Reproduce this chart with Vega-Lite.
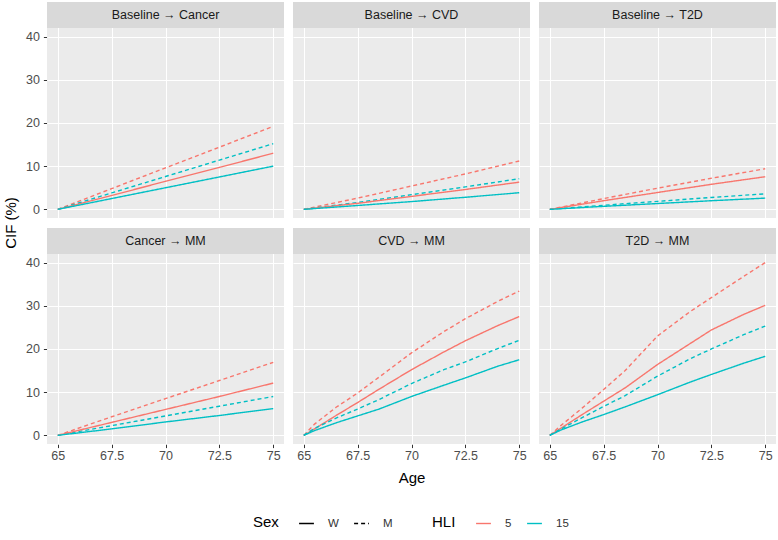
{
  "$schema": "https://vega.github.io/schema/vega-lite/v6.json",
  "padding": {"left": 3, "top": 2, "right": 2, "bottom": 2},
  "datasets": {
    "panels": [
      {"panel": "Baseline → Cancer", "step": "onset", "disease": "Cancer"},
      {"panel": "Baseline → CVD", "step": "onset", "disease": "CVD"},
      {"panel": "Baseline → T2D", "step": "onset", "disease": "T2D"},
      {"panel": "Cancer → MM", "step": "multimorbidity", "disease": "Cancer"},
      {"panel": "CVD → MM", "step": "multimorbidity", "disease": "CVD"},
      {"panel": "T2D → MM", "step": "multimorbidity", "disease": "T2D"}
    ]
  },
  "data": {"values": [
    {"panel": "Baseline → Cancer", "sex": "M", "hli": "5", "age": 65, "cif": 0},
    {"panel": "Baseline → Cancer", "sex": "M", "hli": "5", "age": 67.5, "cif": 4.8},
    {"panel": "Baseline → Cancer", "sex": "M", "hli": "5", "age": 70, "cif": 9.6},
    {"panel": "Baseline → Cancer", "sex": "M", "hli": "5", "age": 72.5, "cif": 14.4},
    {"panel": "Baseline → Cancer", "sex": "M", "hli": "5", "age": 75, "cif": 19.2},
    {"panel": "Baseline → Cancer", "sex": "M", "hli": "15", "age": 65, "cif": 0},
    {"panel": "Baseline → Cancer", "sex": "M", "hli": "15", "age": 67.5, "cif": 3.8},
    {"panel": "Baseline → Cancer", "sex": "M", "hli": "15", "age": 70, "cif": 7.6},
    {"panel": "Baseline → Cancer", "sex": "M", "hli": "15", "age": 72.5, "cif": 11.4},
    {"panel": "Baseline → Cancer", "sex": "M", "hli": "15", "age": 75, "cif": 15.2},
    {"panel": "Baseline → Cancer", "sex": "W", "hli": "5", "age": 65, "cif": 0},
    {"panel": "Baseline → Cancer", "sex": "W", "hli": "5", "age": 67.5, "cif": 3.2},
    {"panel": "Baseline → Cancer", "sex": "W", "hli": "5", "age": 70, "cif": 6.5},
    {"panel": "Baseline → Cancer", "sex": "W", "hli": "5", "age": 72.5, "cif": 9.7},
    {"panel": "Baseline → Cancer", "sex": "W", "hli": "5", "age": 75, "cif": 13.0},
    {"panel": "Baseline → Cancer", "sex": "W", "hli": "15", "age": 65, "cif": 0},
    {"panel": "Baseline → Cancer", "sex": "W", "hli": "15", "age": 67.5, "cif": 2.5},
    {"panel": "Baseline → Cancer", "sex": "W", "hli": "15", "age": 70, "cif": 5.0},
    {"panel": "Baseline → Cancer", "sex": "W", "hli": "15", "age": 72.5, "cif": 7.5},
    {"panel": "Baseline → Cancer", "sex": "W", "hli": "15", "age": 75, "cif": 10.0},

    {"panel": "Baseline → CVD", "sex": "M", "hli": "5", "age": 65, "cif": 0},
    {"panel": "Baseline → CVD", "sex": "M", "hli": "5", "age": 67.5, "cif": 2.6},
    {"panel": "Baseline → CVD", "sex": "M", "hli": "5", "age": 70, "cif": 5.4},
    {"panel": "Baseline → CVD", "sex": "M", "hli": "5", "age": 72.5, "cif": 8.2},
    {"panel": "Baseline → CVD", "sex": "M", "hli": "5", "age": 75, "cif": 11.2},
    {"panel": "Baseline → CVD", "sex": "M", "hli": "15", "age": 65, "cif": 0},
    {"panel": "Baseline → CVD", "sex": "M", "hli": "15", "age": 67.5, "cif": 1.6},
    {"panel": "Baseline → CVD", "sex": "M", "hli": "15", "age": 70, "cif": 3.4},
    {"panel": "Baseline → CVD", "sex": "M", "hli": "15", "age": 72.5, "cif": 5.2},
    {"panel": "Baseline → CVD", "sex": "M", "hli": "15", "age": 75, "cif": 7.1},
    {"panel": "Baseline → CVD", "sex": "W", "hli": "5", "age": 65, "cif": 0},
    {"panel": "Baseline → CVD", "sex": "W", "hli": "5", "age": 67.5, "cif": 1.4},
    {"panel": "Baseline → CVD", "sex": "W", "hli": "5", "age": 70, "cif": 3.0},
    {"panel": "Baseline → CVD", "sex": "W", "hli": "5", "age": 72.5, "cif": 4.6},
    {"panel": "Baseline → CVD", "sex": "W", "hli": "5", "age": 75, "cif": 6.3},
    {"panel": "Baseline → CVD", "sex": "W", "hli": "15", "age": 65, "cif": 0},
    {"panel": "Baseline → CVD", "sex": "W", "hli": "15", "age": 67.5, "cif": 0.9},
    {"panel": "Baseline → CVD", "sex": "W", "hli": "15", "age": 70, "cif": 1.8},
    {"panel": "Baseline → CVD", "sex": "W", "hli": "15", "age": 72.5, "cif": 2.8},
    {"panel": "Baseline → CVD", "sex": "W", "hli": "15", "age": 75, "cif": 3.85},

    {"panel": "Baseline → T2D", "sex": "M", "hli": "5", "age": 65, "cif": 0},
    {"panel": "Baseline → T2D", "sex": "M", "hli": "5", "age": 67.5, "cif": 2.5},
    {"panel": "Baseline → T2D", "sex": "M", "hli": "5", "age": 70, "cif": 4.9},
    {"panel": "Baseline → T2D", "sex": "M", "hli": "5", "age": 72.5, "cif": 7.2},
    {"panel": "Baseline → T2D", "sex": "M", "hli": "5", "age": 75, "cif": 9.4},
    {"panel": "Baseline → T2D", "sex": "M", "hli": "15", "age": 65, "cif": 0},
    {"panel": "Baseline → T2D", "sex": "M", "hli": "15", "age": 67.5, "cif": 0.95},
    {"panel": "Baseline → T2D", "sex": "M", "hli": "15", "age": 70, "cif": 1.85},
    {"panel": "Baseline → T2D", "sex": "M", "hli": "15", "age": 72.5, "cif": 2.75},
    {"panel": "Baseline → T2D", "sex": "M", "hli": "15", "age": 75, "cif": 3.6},
    {"panel": "Baseline → T2D", "sex": "W", "hli": "5", "age": 65, "cif": 0},
    {"panel": "Baseline → T2D", "sex": "W", "hli": "5", "age": 67.5, "cif": 2.0},
    {"panel": "Baseline → T2D", "sex": "W", "hli": "5", "age": 70, "cif": 3.9},
    {"panel": "Baseline → T2D", "sex": "W", "hli": "5", "age": 72.5, "cif": 5.8},
    {"panel": "Baseline → T2D", "sex": "W", "hli": "5", "age": 75, "cif": 7.55},
    {"panel": "Baseline → T2D", "sex": "W", "hli": "15", "age": 65, "cif": 0},
    {"panel": "Baseline → T2D", "sex": "W", "hli": "15", "age": 67.5, "cif": 0.7},
    {"panel": "Baseline → T2D", "sex": "W", "hli": "15", "age": 70, "cif": 1.35},
    {"panel": "Baseline → T2D", "sex": "W", "hli": "15", "age": 72.5, "cif": 2.0},
    {"panel": "Baseline → T2D", "sex": "W", "hli": "15", "age": 75, "cif": 2.6},

    {"panel": "Cancer → MM", "sex": "M", "hli": "5", "age": 65, "cif": 0},
    {"panel": "Cancer → MM", "sex": "M", "hli": "5", "age": 67.5, "cif": 4.3},
    {"panel": "Cancer → MM", "sex": "M", "hli": "5", "age": 70, "cif": 8.5},
    {"panel": "Cancer → MM", "sex": "M", "hli": "5", "age": 72.5, "cif": 12.7},
    {"panel": "Cancer → MM", "sex": "M", "hli": "5", "age": 75, "cif": 16.9},
    {"panel": "Cancer → MM", "sex": "M", "hli": "15", "age": 65, "cif": 0},
    {"panel": "Cancer → MM", "sex": "M", "hli": "15", "age": 67.5, "cif": 2.25},
    {"panel": "Cancer → MM", "sex": "M", "hli": "15", "age": 70, "cif": 4.5},
    {"panel": "Cancer → MM", "sex": "M", "hli": "15", "age": 72.5, "cif": 6.75},
    {"panel": "Cancer → MM", "sex": "M", "hli": "15", "age": 75, "cif": 9.0},
    {"panel": "Cancer → MM", "sex": "W", "hli": "5", "age": 65, "cif": 0},
    {"panel": "Cancer → MM", "sex": "W", "hli": "5", "age": 67.5, "cif": 3.0},
    {"panel": "Cancer → MM", "sex": "W", "hli": "5", "age": 70, "cif": 6.0},
    {"panel": "Cancer → MM", "sex": "W", "hli": "5", "age": 72.5, "cif": 9.0},
    {"panel": "Cancer → MM", "sex": "W", "hli": "5", "age": 75, "cif": 12.1},
    {"panel": "Cancer → MM", "sex": "W", "hli": "15", "age": 65, "cif": 0},
    {"panel": "Cancer → MM", "sex": "W", "hli": "15", "age": 67.5, "cif": 1.5},
    {"panel": "Cancer → MM", "sex": "W", "hli": "15", "age": 70, "cif": 3.1},
    {"panel": "Cancer → MM", "sex": "W", "hli": "15", "age": 72.5, "cif": 4.6},
    {"panel": "Cancer → MM", "sex": "W", "hli": "15", "age": 75, "cif": 6.2},

    {"panel": "CVD → MM", "sex": "M", "hli": "5", "age": 65, "cif": 0},
    {"panel": "CVD → MM", "sex": "M", "hli": "5", "age": 65.5, "cif": 2.6},
    {"panel": "CVD → MM", "sex": "M", "hli": "5", "age": 66.5, "cif": 6.5},
    {"panel": "CVD → MM", "sex": "M", "hli": "5", "age": 67.5, "cif": 9.8},
    {"panel": "CVD → MM", "sex": "M", "hli": "5", "age": 68.5, "cif": 13.5},
    {"panel": "CVD → MM", "sex": "M", "hli": "5", "age": 70, "cif": 19.1},
    {"panel": "CVD → MM", "sex": "M", "hli": "5", "age": 71.5, "cif": 24.0},
    {"panel": "CVD → MM", "sex": "M", "hli": "5", "age": 72.5, "cif": 27.0},
    {"panel": "CVD → MM", "sex": "M", "hli": "5", "age": 74, "cif": 31.0},
    {"panel": "CVD → MM", "sex": "M", "hli": "5", "age": 75, "cif": 33.4},
    {"panel": "CVD → MM", "sex": "W", "hli": "5", "age": 65, "cif": 0},
    {"panel": "CVD → MM", "sex": "W", "hli": "5", "age": 65.5, "cif": 1.5},
    {"panel": "CVD → MM", "sex": "W", "hli": "5", "age": 66.5, "cif": 4.6},
    {"panel": "CVD → MM", "sex": "W", "hli": "5", "age": 67.5, "cif": 7.6},
    {"panel": "CVD → MM", "sex": "W", "hli": "5", "age": 68.5, "cif": 10.7},
    {"panel": "CVD → MM", "sex": "W", "hli": "5", "age": 70, "cif": 15.2},
    {"panel": "CVD → MM", "sex": "W", "hli": "5", "age": 71.5, "cif": 19.3},
    {"panel": "CVD → MM", "sex": "W", "hli": "5", "age": 72.5, "cif": 21.9},
    {"panel": "CVD → MM", "sex": "W", "hli": "5", "age": 74, "cif": 25.4},
    {"panel": "CVD → MM", "sex": "W", "hli": "5", "age": 75, "cif": 27.5},
    {"panel": "CVD → MM", "sex": "M", "hli": "15", "age": 65, "cif": 0},
    {"panel": "CVD → MM", "sex": "M", "hli": "15", "age": 65.5, "cif": 1.6},
    {"panel": "CVD → MM", "sex": "M", "hli": "15", "age": 66.5, "cif": 4.0},
    {"panel": "CVD → MM", "sex": "M", "hli": "15", "age": 67.5, "cif": 6.1},
    {"panel": "CVD → MM", "sex": "M", "hli": "15", "age": 68.5, "cif": 8.3},
    {"panel": "CVD → MM", "sex": "M", "hli": "15", "age": 70, "cif": 12.0},
    {"panel": "CVD → MM", "sex": "M", "hli": "15", "age": 71.5, "cif": 15.2},
    {"panel": "CVD → MM", "sex": "M", "hli": "15", "age": 72.5, "cif": 17.0},
    {"panel": "CVD → MM", "sex": "M", "hli": "15", "age": 74, "cif": 20.1},
    {"panel": "CVD → MM", "sex": "M", "hli": "15", "age": 75, "cif": 22.0},
    {"panel": "CVD → MM", "sex": "W", "hli": "15", "age": 65, "cif": 0},
    {"panel": "CVD → MM", "sex": "W", "hli": "15", "age": 65.5, "cif": 1.1},
    {"panel": "CVD → MM", "sex": "W", "hli": "15", "age": 66.5, "cif": 2.9},
    {"panel": "CVD → MM", "sex": "W", "hli": "15", "age": 67.5, "cif": 4.5},
    {"panel": "CVD → MM", "sex": "W", "hli": "15", "age": 68.5, "cif": 6.1},
    {"panel": "CVD → MM", "sex": "W", "hli": "15", "age": 70, "cif": 9.0},
    {"panel": "CVD → MM", "sex": "W", "hli": "15", "age": 71.5, "cif": 11.6},
    {"panel": "CVD → MM", "sex": "W", "hli": "15", "age": 72.5, "cif": 13.3},
    {"panel": "CVD → MM", "sex": "W", "hli": "15", "age": 74, "cif": 16.0},
    {"panel": "CVD → MM", "sex": "W", "hli": "15", "age": 75, "cif": 17.5},

    {"panel": "T2D → MM", "sex": "M", "hli": "5", "age": 65, "cif": 0},
    {"panel": "T2D → MM", "sex": "M", "hli": "5", "age": 65.5, "cif": 2.2},
    {"panel": "T2D → MM", "sex": "M", "hli": "5", "age": 66.5, "cif": 6.3},
    {"panel": "T2D → MM", "sex": "M", "hli": "5", "age": 67.5, "cif": 10.6},
    {"panel": "T2D → MM", "sex": "M", "hli": "5", "age": 68.5, "cif": 15.0},
    {"panel": "T2D → MM", "sex": "M", "hli": "5", "age": 70, "cif": 23.0},
    {"panel": "T2D → MM", "sex": "M", "hli": "5", "age": 71.5, "cif": 28.6},
    {"panel": "T2D → MM", "sex": "M", "hli": "5", "age": 72.5, "cif": 31.9},
    {"panel": "T2D → MM", "sex": "M", "hli": "5", "age": 74, "cif": 36.8},
    {"panel": "T2D → MM", "sex": "M", "hli": "5", "age": 75, "cif": 40.0},
    {"panel": "T2D → MM", "sex": "W", "hli": "5", "age": 65, "cif": 0},
    {"panel": "T2D → MM", "sex": "W", "hli": "5", "age": 65.5, "cif": 1.6},
    {"panel": "T2D → MM", "sex": "W", "hli": "5", "age": 66.5, "cif": 4.8},
    {"panel": "T2D → MM", "sex": "W", "hli": "5", "age": 67.5, "cif": 7.9},
    {"panel": "T2D → MM", "sex": "W", "hli": "5", "age": 68.5, "cif": 11.0},
    {"panel": "T2D → MM", "sex": "W", "hli": "5", "age": 70, "cif": 16.4},
    {"panel": "T2D → MM", "sex": "W", "hli": "5", "age": 71.5, "cif": 21.2},
    {"panel": "T2D → MM", "sex": "W", "hli": "5", "age": 72.5, "cif": 24.4},
    {"panel": "T2D → MM", "sex": "W", "hli": "5", "age": 74, "cif": 28.0},
    {"panel": "T2D → MM", "sex": "W", "hli": "5", "age": 75, "cif": 30.1},
    {"panel": "T2D → MM", "sex": "M", "hli": "15", "age": 65, "cif": 0},
    {"panel": "T2D → MM", "sex": "M", "hli": "15", "age": 65.5, "cif": 1.4},
    {"panel": "T2D → MM", "sex": "M", "hli": "15", "age": 66.5, "cif": 4.1},
    {"panel": "T2D → MM", "sex": "M", "hli": "15", "age": 67.5, "cif": 6.7},
    {"panel": "T2D → MM", "sex": "M", "hli": "15", "age": 68.5, "cif": 9.2},
    {"panel": "T2D → MM", "sex": "M", "hli": "15", "age": 70, "cif": 13.7},
    {"panel": "T2D → MM", "sex": "M", "hli": "15", "age": 71.5, "cif": 17.7},
    {"panel": "T2D → MM", "sex": "M", "hli": "15", "age": 72.5, "cif": 20.0},
    {"panel": "T2D → MM", "sex": "M", "hli": "15", "age": 74, "cif": 23.3},
    {"panel": "T2D → MM", "sex": "M", "hli": "15", "age": 75, "cif": 25.3},
    {"panel": "T2D → MM", "sex": "W", "hli": "15", "age": 65, "cif": 0},
    {"panel": "T2D → MM", "sex": "W", "hli": "15", "age": 65.5, "cif": 1.2},
    {"panel": "T2D → MM", "sex": "W", "hli": "15", "age": 66.5, "cif": 3.1},
    {"panel": "T2D → MM", "sex": "W", "hli": "15", "age": 67.5, "cif": 4.8},
    {"panel": "T2D → MM", "sex": "W", "hli": "15", "age": 68.5, "cif": 6.6},
    {"panel": "T2D → MM", "sex": "W", "hli": "15", "age": 70, "cif": 9.4},
    {"panel": "T2D → MM", "sex": "W", "hli": "15", "age": 71.5, "cif": 12.3},
    {"panel": "T2D → MM", "sex": "W", "hli": "15", "age": 72.5, "cif": 14.1},
    {"panel": "T2D → MM", "sex": "W", "hli": "15", "age": 74, "cif": 16.7},
    {"panel": "T2D → MM", "sex": "W", "hli": "15", "age": 75, "cif": 18.3}
  ]},
  "transform": [
    {"lookup": "panel", "from": {"data": {"name": "panels"}, "key": "panel", "fields": ["step", "disease"]}}
  ],
  "facet": {
    "row": {
      "field": "step", "type": "nominal", "sort": ["onset", "multimorbidity"], "title": "CIF (%)",
      "header": {"labels": false, "labelPadding": 0, "titleOrient": "left", "titleFontSize": 15, "titleFontWeight": "normal", "titleColor": "#000000", "titlePadding": -4}
    },
    "column": {
      "field": "disease", "type": "nominal", "sort": ["Cancer", "CVD", "T2D"], "title": "Age",
      "header": {"labels": false, "labelPadding": 0, "titleOrient": "bottom", "titleFontSize": 15, "titleFontWeight": "normal", "titleColor": "#000000", "titlePadding": -2}
    }
  },
  "spacing": {"row": 10, "column": 9},
  "spec": {
    "width": 237,
    "height": 216,
    "layer": [
      {
        "mark": {"type": "line", "strokeWidth": 1.4},
        "encoding": {
          "x": {
            "field": "age", "type": "quantitative", "title": null,
            "scale": {"domain": [64.5, 75.5], "nice": false, "zero": false},
            "axis": {
              "values": [65, 66.25, 67.5, 68.75, 70, 71.25, 72.5, 73.75, 75],
              "labelExpr": "datum.value % 2.5 === 0 ? format(datum.value, '~g') : ''",
              "gridWidth": {"condition": {"test": "datum.value % 2.5 === 0", "value": 1.1}, "value": 0.55},
              "tickOpacity": {"condition": {"test": "datum.value % 2.5 === 0", "value": 1}, "value": 0}
            }
          },
          "y": {
            "field": "cif", "type": "quantitative", "title": null,
            "scale": {"domain": [-2, 48], "nice": false, "zero": false},
            "axis": {
              "values": [0, 5, 10, 15, 20, 25, 30, 35, 40],
              "labelExpr": "datum.value % 10 === 0 ? datum.label : ''",
              "gridWidth": {"condition": {"test": "datum.value % 10 === 0", "value": 1.1}, "value": 0.55},
              "tickOpacity": {"condition": {"test": "datum.value % 10 === 0", "value": 1}, "value": 0}
            }
          },
          "color": {
            "field": "hli", "type": "nominal", "title": "HLI",
            "scale": {"domain": ["5", "15"], "range": ["#F8766D", "#00BFC4"]},
            "legend": {"orient": "none", "legendX": 385, "legendY": 513}
          },
          "strokeDash": {
            "field": "sex", "type": "nominal", "title": "Sex",
            "scale": {"domain": ["W", "M"], "range": [[1, 0], [4, 3]]},
            "legend": {"orient": "none", "legendX": 206, "legendY": 513, "symbolStrokeColor": "#000000"}
          }
        }
      },
      {
        "transform": [{"aggregate": [{"op": "count", "as": "n"}], "groupby": ["panel"]}],
        "mark": {"type": "rect", "fill": "#D9D9D9"},
        "encoding": {
          "x": {"datum": 64.5, "type": "quantitative"},
          "x2": {"datum": 75.5},
          "y": {"datum": 42, "type": "quantitative"},
          "y2": {"datum": 48}
        }
      },
      {
        "transform": [{"aggregate": [{"op": "count", "as": "n"}], "groupby": ["panel"]}],
        "mark": {"type": "text", "fontSize": 12.5, "color": "#1A1A1A", "baseline": "middle", "align": "center"},
        "encoding": {
          "x": {"datum": 70, "type": "quantitative"},
          "y": {"datum": 45, "type": "quantitative"},
          "text": {"field": "panel", "type": "nominal"}
        }
      }
    ]
  },
  "config": {
    "font": "Liberation Sans",
    "view": {"fill": "#EBEBEB", "stroke": null},
    "axis": {
      "domain": false,
      "gridColor": "#FFFFFF",
      "tickColor": "#333333",
      "tickSize": 3.6,
      "labelColor": "#4D4D4D",
      "labelFontSize": 12.5
    },
    "axisY": {"labelPadding": 4},
    "axisX": {"labelPadding": 2},
    "legend": {
      "direction": "horizontal",
      "titleOrient": "left",
      "titleFontSize": 15,
      "titleFontWeight": "normal",
      "titleColor": "#000000",
      "titlePadding": 19,
      "labelFontSize": 11.5,
      "labelColor": "#333333",
      "labelOffset": 13,
      "symbolType": "stroke",
      "symbolStrokeWidth": 1.4,
      "symbolSize": 220,
      "columnPadding": 12
    }
  }
}
